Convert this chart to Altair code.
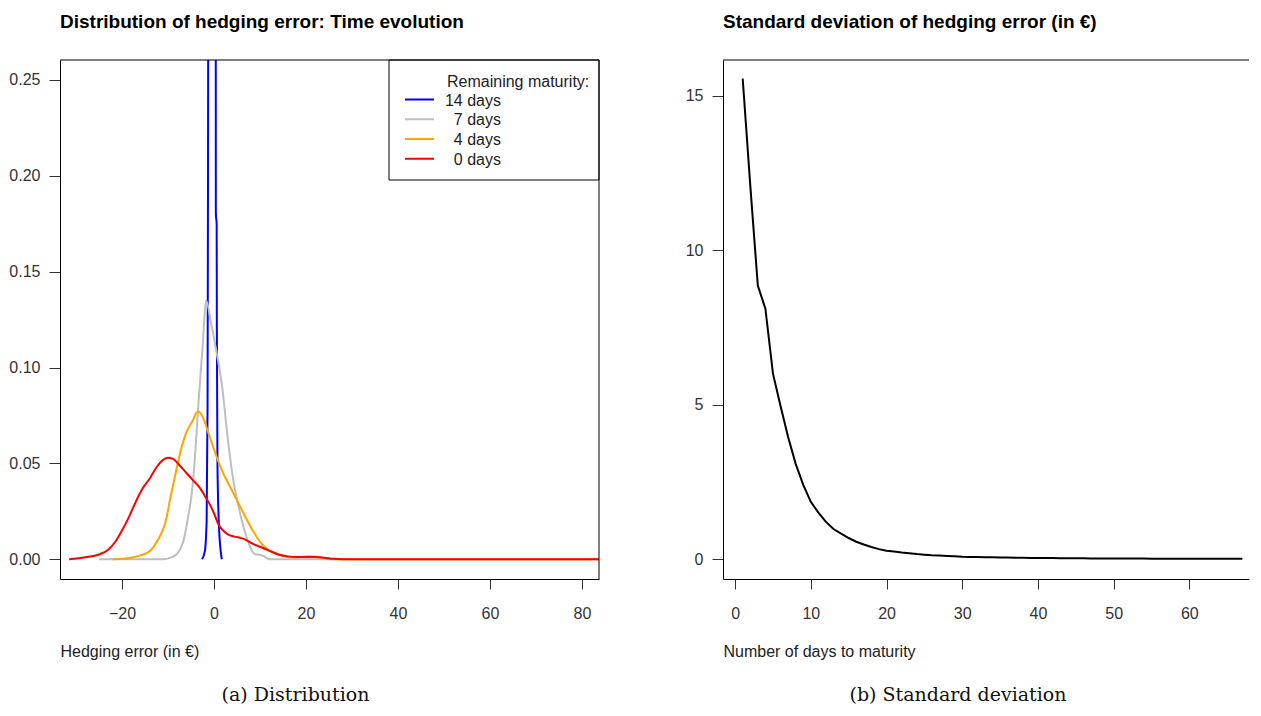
import altair as alt
import pandas as pd

# ---------------- data: left panel (densities) ----------------
series_names = ["14 days", "7 days", "4 days", "0 days"]
series_colors = ["#0000FF", "#BEBEBE", "#FFA500", "#FF0000"]
legend_labels = ["14 days", "7 days", "4 days", "0 days"]

blue_x = [-2.6, -2.0, -1.6, -1.4, -1.3, -1.25, -0.4, 0.38, 0.40, 0.58, 0.62, 0.75, 1.1, 1.7]
blue_y = [0.0, 0.004, 0.02, 0.08, 0.20, 0.30, 0.95, 0.30, 0.18, 0.175, 0.12, 0.05, 0.016, 0.0]

gray_x = [-25, -11, -9, -8, -7.2, -6.5, -5.8, -4.7, -4.0, -3.3, -2.5, -1.7, -0.7, 0.4, 1.8,
          2.9, 4.0, 5.4, 6.9, 8.3, 9.0, 9.8, 10.9, 12, 85]
gray_y = [0, 0, 0.0012, 0.003, 0.0059, 0.011, 0.0198, 0.0372, 0.058, 0.0842, 0.110, 0.135,
          0.124, 0.110, 0.0894, 0.065, 0.0442, 0.0268, 0.0129, 0.0042, 0.0025, 0.0024,
          0.0016, 0, 0]

orange_x = [-22, -18, -16, -14, -13, -12, -11, -10.5, -9.5, -8.5, -7.6, -6.2, -4.7, -3.5,
            -2.5, -1.1, 0.4, 1.8, 4.0, 6.2, 8.3, 10.5, 12, 13.4, 15, 17, 19, 20.7, 22.5,
            24, 26, 85]
orange_y = [0, 0.0008, 0.002, 0.0042, 0.007, 0.011, 0.016, 0.0198, 0.032, 0.043, 0.053,
            0.065, 0.072, 0.077, 0.0745, 0.065, 0.0546, 0.046, 0.0355, 0.025, 0.0155,
            0.0077, 0.0045, 0.003, 0.0018, 0.001, 0.0012, 0.0016, 0.0013, 0.0005, 0, 0]

red_x = [-31.5, -28, -25, -23, -21.5, -20, -18.5, -17, -15.5, -14, -12.5, -11, -10, -9,
         -7.5, -6, -4.5, -3, -2, -1, 0, 1, 2, 3, 4.5, 6, 7, 8.5, 10, 12, 14, 16, 18, 20,
         22, 24, 26, 28, 90]
red_y = [0, 0.001, 0.0025, 0.005, 0.009, 0.015, 0.022, 0.030, 0.037, 0.042, 0.048, 0.052,
         0.053, 0.0525, 0.049, 0.045, 0.041, 0.037, 0.033, 0.029, 0.024, 0.018, 0.015,
         0.013, 0.0118, 0.011, 0.010, 0.008, 0.0065, 0.0045, 0.0025, 0.0015, 0.0012,
         0.0012, 0.0012, 0.0008, 0.0002, 0, 0]

dens_x = [blue_x, gray_x, orange_x, red_x]
dens_y = [blue_y, gray_y, orange_y, red_y]

left_x_ticks = [-20, 0, 20, 40, 60, 80]
left_y_ticks = [0, 0.05, 0.10, 0.15, 0.20, 0.25]

# ---------------- data: right panel (std dev) ----------------
days = list(range(1, 68))
sd_values = [15.55, 12.1, 8.85, 8.1, 6.0, 4.95, 3.95, 3.08, 2.4, 1.85,
             1.5, 1.2, 0.97, 0.82, 0.68, 0.56, 0.47, 0.39, 0.32, 0.27,
             0.24, 0.21, 0.19, 0.16, 0.14, 0.12, 0.11, 0.10, 0.09, 0.075,
             0.068, 0.062, 0.058, 0.053, 0.048, 0.045, 0.042, 0.039, 0.036, 0.033,
             0.031, 0.029, 0.027, 0.025, 0.023, 0.021, 0.02, 0.019, 0.018, 0.017,
             0.016, 0.015, 0.014, 0.013, 0.012, 0.012, 0.011, 0.011, 0.010, 0.010,
             0.009, 0.009, 0.008, 0.008, 0.007, 0.007, 0.006]
right_x_ticks = [0, 10, 20, 30, 40, 50, 60]
right_y_ticks = [0, 5, 10, 15]

# ---------------- texts ----------------
title_left = "Distribution of hedging error: Time evolution"
title_right = "Standard deviation of hedging error (in \u20ac)"
xlabel_left = "Hedging error (in \u20ac)"
xlabel_right = "Number of days to maturity"
caption_left = "(a) Distribution"
caption_right = "(b) Standard deviation"
legend_title = "Remaining maturity:"

FONT = "Liberation Sans"
W1, H = 539, 519
W2 = 526
CAP_Y = 635

one = pd.DataFrame({"k": [0]})


def axis_x(values, title):
    return alt.Axis(values=values, title=title, grid=False, domain=True, domainColor="black",
                    tickSize=10, tickColor="#333", labelPadding=16, labelFont=FONT,
                    labelFontSize=16, labelColor="#333", labelFlush=False,
                    titleFont=FONT, titleFontSize=16, titleFontWeight="normal",
                    titleColor="#222", titleX=0, titleY=72, titleAlign="left",
                    titleBaseline="middle", titleAnchor="start")


def axis_y(values, fmt):
    return alt.Axis(values=values, title=None, grid=False, domain=True, domainColor="black",
                    tickSize=11, tickColor="#333", labelPadding=9, labelFont=FONT,
                    labelFontSize=16, labelColor="#333", format=fmt, labelFlush=False)


def frame_rules(width, right_side):
    parts = [alt.Chart(one).mark_rule(color="black", strokeWidth=1).encode(
        x=alt.value(0), x2=alt.value(width), y=alt.value(0))]
    if right_side:
        parts.append(alt.Chart(one).mark_rule(color="black", strokeWidth=1).encode(
            x=alt.value(width), y=alt.value(0), y2=alt.value(H)))
    return parts


# ---------------- left panel ----------------
xs_left = alt.Scale(domain=[-33.48, 83.7], nice=False, zero=False)
ys_left = alt.Scale(domain=[-0.0103, 0.2604], nice=False, zero=False)

left_layers = []
for name, xs, ys, col in zip(series_names, dens_x, dens_y, series_colors):
    df = pd.DataFrame({"x": xs, "y": ys, "series": name})
    left_layers.append(
        alt.Chart(df).mark_line(color=col, strokeWidth=2, clip=True, interpolate="monotone").encode(
            x=alt.X("x:Q", scale=xs_left, axis=axis_x(left_x_ticks, xlabel_left)),
            y=alt.Y("y:Q", scale=ys_left, axis=axis_y(left_y_ticks, ".2f")),
        )
    )

# legend box
left_layers.append(alt.Chart(one).mark_rect(fill="white", stroke="black", strokeWidth=1).encode(
    x=alt.value(329), x2=alt.value(W1), y=alt.value(0), y2=alt.value(120)))
left_layers.append(alt.Chart(pd.DataFrame({"t": [legend_title]})).mark_text(
    align="left", baseline="middle", font=FONT, fontSize=16, color="#222").encode(
    text="t:N", x=alt.value(387), y=alt.value(21.5)))
for i, (lab, col) in enumerate(zip(legend_labels, series_colors)):
    yy = 39.5 + 19.75 * i
    left_layers.append(alt.Chart(pd.DataFrame({"t": [lab]})).mark_rule(color=col, strokeWidth=2).encode(
        x=alt.value(345), x2=alt.value(374), y=alt.value(yy)))
    left_layers.append(alt.Chart(pd.DataFrame({"t": [lab]})).mark_text(
        align="right", baseline="middle", font=FONT, fontSize=16, color="#222").encode(
        text="t:N", x=alt.value(441), y=alt.value(yy + 1)))

left_layers += frame_rules(W1, True)
left_layers.append(alt.Chart(pd.DataFrame({"t": [caption_left]})).mark_text(
    align="center", baseline="middle", font="DejaVu Serif", fontSize=19, color="#111").encode(
    text="t:N", x=alt.value(235.5), y=alt.value(CAP_Y)))

left = alt.layer(*left_layers).properties(
    width=W1, height=H,
    title=alt.TitleParams(title_left, anchor="start", frame="group", font=FONT, fontSize=19,
                          fontWeight="bold", color="black", baseline="alphabetic", offset=13),
)

# ---------------- right panel ----------------
xs_right = alt.Scale(domain=[-1.6, 67.88], nice=False, zero=False)
ys_right = alt.Scale(domain=[-0.647, 16.15], nice=False, zero=False)

sd_df = pd.DataFrame({"day": days, "sd": sd_values})
right_layers = [
    alt.Chart(sd_df).mark_line(color="black", strokeWidth=2, clip=True).encode(
        x=alt.X("day:Q", scale=xs_right, axis=axis_x(right_x_ticks, xlabel_right)),
        y=alt.Y("sd:Q", scale=ys_right, axis=axis_y(right_y_ticks, "d")),
    )
]
right_layers += frame_rules(W2, False)
right_layers.append(alt.Chart(pd.DataFrame({"t": [caption_right]})).mark_text(
    align="center", baseline="middle", font="DejaVu Serif", fontSize=19, color="#111").encode(
    text="t:N", x=alt.value(235), y=alt.value(CAP_Y)))

right = alt.layer(*right_layers).properties(
    width=W2, height=H,
    title=alt.TitleParams(title_right, anchor="start", frame="group", font=FONT, fontSize=19,
                          fontWeight="bold", color="black", baseline="alphabetic", offset=13),
)

chart = alt.hconcat(left, right, spacing=84).properties(
    padding={"left": 0, "top": 4, "right": 0, "bottom": 0}
).configure_view(stroke="transparent").configure_axis(domainWidth=1)

chart.save("out.html", embed_options={"renderer": "svg", "actions": False})
